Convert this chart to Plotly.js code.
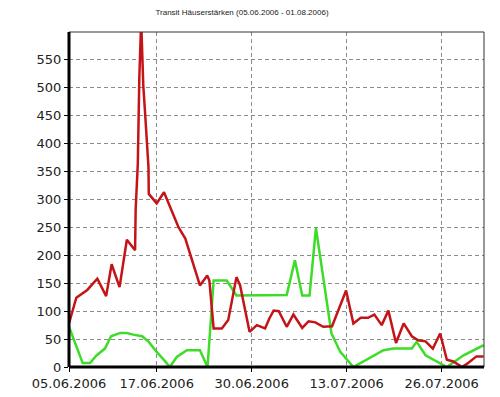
<!DOCTYPE html>
<html><head><meta charset="utf-8">
<script src="https://cdn.plot.ly/plotly-3.0.1.min.js"></script>
<style>html,body{margin:0;padding:0;background:#fff}#chart{width:500px;height:397px}</style>
</head><body><div id="chart"></div>
<script>
const redDates = ["2006-06-05 00:00","2006-06-06 00:00","2006-06-07 12:00","2006-06-08 21:00","2006-06-10 02:00","2006-06-10 20:00","2006-06-11 22:00","2006-06-12 22:00","2006-06-14 01:00","2006-06-14 03:00","2006-06-14 10:00","2006-06-14 12:00","2006-06-14 15:00","2006-06-14 21:00","2006-06-15 02:00","2006-06-15 04:00","2006-06-15 10:00","2006-06-15 15:00","2006-06-15 21:00","2006-06-15 22:00","2006-06-17 00:00","2006-06-18 00:00","2006-06-19 07:00","2006-06-20 00:00","2006-06-20 22:00","2006-06-22 22:00","2006-06-23 22:00","2006-06-24 05:00","2006-06-24 19:00","2006-06-25 22:00","2006-06-26 19:00","2006-06-27 07:00","2006-06-27 22:00","2006-06-28 10:00","2006-06-29 17:00","2006-06-30 17:00","2006-07-01 20:00","2006-07-02 10:00","2006-07-03 00:00","2006-07-03 17:00","2006-07-04 19:00","2006-07-05 17:00","2006-07-06 22:00","2006-07-07 19:00","2006-07-08 17:00","2006-07-09 19:00","2006-07-11 00:00","2006-07-12 22:00","2006-07-13 22:00","2006-07-14 22:00","2006-07-15 22:00","2006-07-16 19:00","2006-07-17 19:00","2006-07-18 17:00","2006-07-19 18:00","2006-07-20 19:00","2006-07-21 22:00","2006-07-22 19:00","2006-07-23 19:00","2006-07-24 19:00","2006-07-25 19:00","2006-07-26 17:00","2006-07-27 14:00","2006-07-28 19:00","2006-07-29 12:00","2006-07-30 18:00","2006-07-31 18:00"];
const redValues = [78,124,138,158,127,184,143,228,209,283,364,441,519,620,549,504,454,405,358,310,293,313,271,250,230,146,164,155,69,69,84,119,161,146,63,75,69,87,101,100,72,94,70,82,80,72,73,137,78,88,88,94,75,101,43,78,55,48,46,33,60,13,10,0,6,19,19];

const greenDates = ["2006-06-05 00:00","2006-06-06 21:00","2006-06-07 21:00","2006-06-08 19:00","2006-06-09 22:00","2006-06-10 18:00","2006-06-12 00:00","2006-06-12 22:00","2006-06-13 19:00","2006-06-15 00:00","2006-06-15 22:00","2006-06-17 00:00","2006-06-18 04:00","2006-06-18 19:00","2006-06-19 18:00","2006-06-21 03:00","2006-06-22 22:00","2006-06-23 23:00","2006-06-24 19:00","2006-06-26 14:00","2006-06-27 22:00","2006-07-04 19:00","2006-07-05 22:00","2006-07-06 22:00","2006-07-07 22:00","2006-07-08 19:00","2006-07-10 22:00","2006-07-12 03:00","2006-07-13 22:00","2006-07-18 01:00","2006-07-19 10:00","2006-07-21 22:00","2006-07-22 14:00","2006-07-23 19:00","2006-07-26 17:00","2006-07-29 00:00","2006-07-31 18:00"];
const greenValues = [72,7,7,21,33,55,61,61,58,55,45,27,10,0,18,30,30,0,155,155,128,129,191,128,128,249,60,27,0,30,33,33,45,21,0,21,39];

const xTickVals = ["2006-06-05","2006-06-17","2006-06-30","2006-07-13","2006-07-26"];
const xTickText = ["05.06.2006","17.06.2006","30.06.2006","13.07.2006","26.07.2006"];
const yTickVals = [0,50,100,150,200,250,300,350,400,450,500,550];
const titleText = "Transit Häuserstärken (05.06.2006 - 01.08.2006)";

const traces = [
  {x: greenDates, y: greenValues, type: "scatter", mode: "lines", line: {color: "#3cdc28", width: 2.5}, hoverinfo: "skip"},
  {x: redDates, y: redValues, type: "scatter", mode: "lines", line: {color: "#c41418", width: 2.5}, hoverinfo: "skip"}
];

const layout = {
  width: 500, height: 397,
  margin: {l: 69, r: 16, t: 32, b: 30, pad: 0},
  paper_bgcolor: "#fff", plot_bgcolor: "#fff",
  showlegend: false,
  title: {text: titleText, x: 0.484, xanchor: "center", y: 0.97, yanchor: "middle", yref: "container",
          font: {family: "Liberation Sans, Arial, sans-serif", size: 8, color: "#222"}},
  xaxis: {
    type: "date", range: ["2006-06-05 00:00", "2006-07-31 19:00"],
    tickmode: "array", tickvals: xTickVals, ticktext: xTickText,
    showgrid: true, gridcolor: "#8c8c8c", griddash: "4px,3px", gridwidth: 1,
    showline: false, zeroline: false,
    ticks: "outside", ticklen: 4, tickcolor: "#000",
    tickfont: {family: "DejaVu Sans, sans-serif", size: 13, color: "#222"}
  },
  yaxis: {
    range: [0, 600], tickmode: "array", tickvals: yTickVals,
    showgrid: true, gridcolor: "#8c8c8c", griddash: "4px,3px", gridwidth: 1,
    showline: false, zeroline: false,
    ticks: "outside", ticklen: 4, tickcolor: "#000",
    tickfont: {family: "DejaVu Sans, sans-serif", size: 13, color: "#222"}
  },
  shapes: [
    {type: "rect", xref: "paper", yref: "paper", x0: 0, x1: 1, y0: 0, y1: 1, line: {color: "#333", width: 1}},
    {type: "line", xref: "paper", yref: "paper", x0: 0, x1: 0, y0: 0, y1: 1, line: {color: "#000", width: 3}},
    {type: "line", xref: "paper", yref: "paper", x0: 0, x1: 1, y0: 0, y1: 0, line: {color: "#000", width: 3}}
  ]
};
Plotly.newPlot("chart", traces, layout, {displayModeBar: false, staticPlot: true});
</script></body></html>
